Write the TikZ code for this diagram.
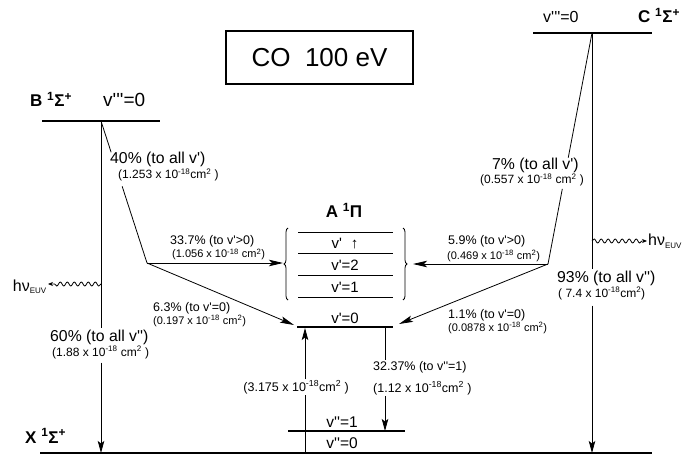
\documentclass[tikz,border=0pt]{standalone}
\usepackage{fontspec}
\setmainfont{Liberation Sans}[Ligatures=TeXOff]
\usetikzlibrary{arrows.meta,decorations.pathmorphing,decorations.pathreplacing,calc}
\newcommand\xten{x 10\textsuperscript{-18}}
\newcommand\cmsq{cm\textsuperscript{2}}
\newcommand\fs[1]{\fontsize{#1}{#1}\selectfont}
\begin{document}
\begin{tikzpicture}[x=1pt,y=-1pt,
  lvl/.style={line width=1.4pt},
  thk/.style={line width=2.2pt},
  ln/.style={line width=0.8pt},
  arr/.style={ln,-{Stealth[length=14pt,width=6.5pt,inset=3pt]}},
  varr/.style={ln,-{Stealth[length=12pt,width=6.5pt,inset=2.5pt]}},
  wave/.style={ln,decorate,decoration={snake,segment length=7pt,amplitude=2pt,post length=5pt},-{Stealth[length=5pt,width=4pt]}},
  brc/.style={ln,decorate,decoration={brace,amplitude=4pt}},
  txt/.style={inner sep=1pt},
  bigl/.style={txt,font=\fs{15.8}},
  bigs/.style={txt,font=\fs{12}},
  medl/.style={txt,font=\fs{12.5}},
  meds/.style={txt,font=\fs{11}},
  state/.style={txt,font=\bfseries\fs{17}},
]
\useasboundingbox (0,0) rectangle (696,457);

% level coordinates
\coordinate (BL) at (42,121); \coordinate (BR) at (160,121); \coordinate (Bv) at (101,121);
\coordinate (CL) at (533,33); \coordinate (CR) at (652,33); \coordinate (Cv) at (592,33);
\coordinate (XL) at (40,453); \coordinate (XR) at (652,453);
\coordinate (XB) at (101,453); \coordinate (XC) at (592,453); \coordinate (Xup) at (305,453);
\coordinate (V1L) at (288,431); \coordinate (V1R) at (405,431); \coordinate (V1dn) at (385,431);
\coordinate (A0L) at (297,327); \coordinate (A0R) at (393,327);
\coordinate (A0up) at (305,328); \coordinate (A0dn) at (385,327);
\coordinate (Bk) at (147,263); \coordinate (Ck) at (548,264);
\coordinate (AinL) at (283,263); \coordinate (AinR) at (413,264);
\coordinate (A0inL) at (294,325); \coordinate (A0inR) at (399,324);
\coordinate (Bhv) at (101,284); \coordinate (Chv) at (592,241);

% title
\node[draw,line width=1.3pt,minimum width=187pt,minimum height=53pt,font=\fs{26}] (title) at (319.5,57.5) {CO\ \ 100 eV};

% state labels
\node[state,anchor=base west] (Blab) at (29,107) {B \textsuperscript{1}Σ\textsuperscript{+}};
\node[txt,anchor=base west,font=\fs{19}] (Bv3) at (102,107) {v'''=0};
\node[txt,anchor=base west,font=\fs{16}] (Cv3) at (542,23) {v'''=0};
\node[state,anchor=base west] (Clab) at (637,23) {C \textsuperscript{1}Σ\textsuperscript{+}};
\node[state,anchor=base west] (Xlab) at (24,443) {X \textsuperscript{1}Σ\textsuperscript{+}};
\node[state,anchor=base] (Alab) at (344,218) {A \textsuperscript{1}Π};

% levels
\draw[lvl] (BL) -- (BR);
\draw[lvl] (CL) -- (CR);
\draw[thk] (XL) -- (XR);
\draw[lvl] (V1L) -- (V1R);
\draw[thk] (A0L) -- (A0R);
\foreach \yy in {232,253,275,297} \draw[ln] (298,\yy) -- (393,\yy);
\draw[brc] (288,300) -- (288,228);
\draw[brc] (403,228) -- (403,300);

% level names
\node[txt,anchor=base,font=\fs{15}] (vup) at (345,248) {v'\hspace{9pt}↑};
\node[txt,anchor=base,font=\fs{15}] (v2) at (345,270) {v'=2};
\node[txt,anchor=base,font=\fs{15}] (v1) at (345,292) {v'=1};
\node[txt,anchor=base,font=\fs{15}] (v0) at (345,323) {v'=0};
\node[txt,anchor=base,font=\fs{15.5}] (w1) at (342,427) {v''=1};
\node[txt,anchor=base,font=\fs{15.5}] (w0) at (342,448) {v''=0};

% transition labels
\node[bigl,anchor=base west] (l40a) at (109,164) {40\% (to all v')};
\node[bigs,anchor=base west] (l40b) at (117,179) {(1.253 \xten\cmsq\ )};
\node[bigl,anchor=base west] (l60a) at (49,341) {60\% (to all v'')};
\node[bigs,anchor=base west] (l60b) at (51,356) {(1.88 \xten\ \cmsq\ )};
\node[bigl,anchor=base west] (l7a) at (491,170) {7\% (to all v')};
\node[bigs,anchor=base west] (l7b) at (479,184) {(0.557 \xten\ \cmsq\ )};
\node[bigl,anchor=base west] (l93a) at (556,282) {93\% (to all v'')};
\node[bigs,anchor=base west] (l93b) at (557,297) {( 7.4 \xten\cmsq)};
\node[medl,anchor=base west] (l33a) at (169,244) {33.7\% (to v'>0)};
\node[meds,anchor=base west] (l33b) at (171,258) {(1.056 \xten\ \cmsq)};
\node[medl,anchor=base west] (l63a) at (152,311) {6.3\% (to v'=0)};
\node[meds,anchor=base west] (l63b) at (152,324) {(0.197 \xten\ \cmsq)};
\node[medl,anchor=base west] (l59a) at (447,244) {5.9\% (to v'>0)};
\node[meds,anchor=base west] (l59b) at (446,259) {(0.469 \xten\ \cmsq)};
\node[medl,anchor=base west] (l11a) at (447,318) {1.1\% (to v'=0)};
\node[meds,anchor=base west] (l11b) at (447,331) {(0.0878 \xten\ \cmsq)};
\node[medl,anchor=base east] (l3175) at (350,391) {(3.175 \xten\cmsq\ )};
\node[medl,anchor=base west] (l3237a) at (372,370) {32.37\% (to v''=1)};
\node[medl,anchor=base west] (l3237b) at (372,392) {(1.12 \xten\cmsq\ )};
\node[txt,anchor=base east,font=\fs{16}] (hvL) at (48,291) {hν\textsubscript{\fs{8}EUV}};
\node[txt,anchor=base west,font=\fs{16}] (hvR) at (647,246) {hν\textsubscript{\fs{8}EUV}};

% transitions
\draw[ln] (Bv) -- (Bv |- l60a.north);
\draw[varr] ([yshift=-3pt]Bv |- l60b.south) -- (XB);
\draw[ln] (Cv) -- (Cv |- l93a.north);
\draw[varr] ([yshift=-5pt]Cv |- l93b.south) -- (XC);
\draw[ln] (Bv) -- ($(Bv)!0.22!(Bk)$);
\draw[ln] ($(Bv)!0.46!(Bk)$) -- (Bk);
\draw[ln] (Cv) -- ($(Cv)!0.54!(Ck)$);
\draw[ln] ($(Cv)!0.675!(Ck)$) -- (Ck);
\draw[arr] (Bk) -- (AinL);
\draw[arr] (Bk) -- (A0inL);
\draw[arr] (Ck) -- (AinR);
\draw[arr] (Ck) -- (A0inR);
\draw[ln] (Xup) -- (Xup |- l3175.south);
\draw[varr] (Xup |- l3175.north) -- (A0up);
\draw[ln] (A0dn) -- (A0dn |- l3237a.north);
\draw[varr] (A0dn |- l3237b.south) -- (V1dn);
\draw[wave] (Bhv) -- (hvL.east |- Bhv);
\draw[wave] (Chv) -- (hvR.west |- Chv);
\end{tikzpicture}
\end{document}
